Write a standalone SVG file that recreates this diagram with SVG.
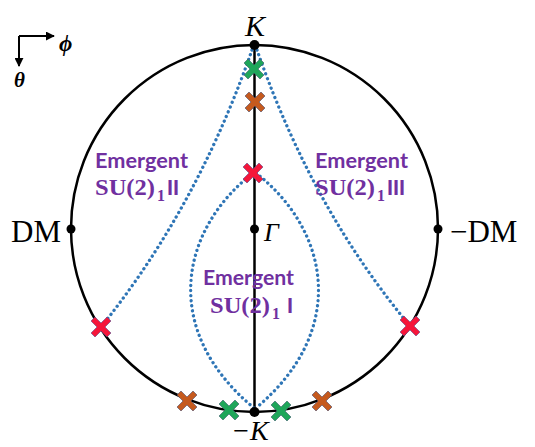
<svg xmlns="http://www.w3.org/2000/svg" width="535" height="447" viewBox="0 0 535 447">
<style>
.ln{fill:none;stroke:#000;stroke-width:2.5}
.ax{fill:none;stroke:#000;stroke-width:2}
.dot{fill:none;stroke:#2E75B6;stroke-width:3.3;stroke-dasharray:0.1 5;stroke-linecap:round}
.lbl{font-family:"Liberation Serif","DejaVu Serif",serif;fill:#000}
.em{font-family:Lato,"Open Sans",sans-serif;font-weight:bold;font-size:20px;fill:#7030A0}
.su{font-family:"Liberation Serif","DejaVu Serif",serif;font-weight:bold;font-size:24px;fill:#7030A0}
.sub{font-family:"Liberation Serif","DejaVu Serif",serif;font-weight:bold;font-size:16px;fill:#7030A0}
.rn{font-family:Lato,"Open Sans",sans-serif;font-weight:900;font-size:20px;fill:#7030A0}
.xr{fill:#F5163A;stroke:#5a4a8a;stroke-width:0.6}
.xg{fill:#1FA65A;stroke:#3a5a6a;stroke-width:0.6}
.xo{fill:#C55A1E;stroke:#4a4a6a;stroke-width:0.6}
</style>
<defs>
<path id="x" d="M-10,-6 L-6,-10 L0,-4 L6,-10 L10,-6 L4,0 L10,6 L6,10 L0,4 L-6,10 L-10,6 L-4,0 Z"/>
<marker id="ah" viewBox="0 0 10 10" refX="9" refY="5" markerWidth="4.5" markerHeight="4.5" orient="auto"><path d="M0,0 L10,5 L0,10 Z" fill="#000"/></marker>
</defs>
<g id="axes">
<path d="M19,36 H54" class="ax" marker-end="url(#ah)"/>
<path d="M19,36 V66" class="ax" marker-end="url(#ah)"/>
<text x="59" y="51" class="lbl" font-size="23" font-weight="bold" font-style="italic">ϕ</text>
<text x="14" y="87" class="lbl" font-size="21" font-weight="bold" font-style="italic">θ</text>
</g>
<g id="connectors">
<circle cx="254.5" cy="228.5" r="183.5" class="ln"/>
<path d="M254.5,45 V412" class="ln"/>
<path d="M252,50 C224,130 179,230 101,327" class="dot"/>
<path d="M257,50 C285,130 330,230 410,326" class="dot"/>
<path d="M253,173 C180,230 160,330 254,408" class="dot"/>
<path d="M256,173 C329,230 349,330 256,408" class="dot"/>
</g>
<g id="K">
<circle cx="254.5" cy="45" r="5"/>
<text x="255" y="36" class="lbl" font-size="30" font-style="italic" text-anchor="middle">K</text>
</g>
<g id="minusK">
<circle cx="254.5" cy="412" r="5"/>
<text x="250" y="440" class="lbl" font-size="28" font-style="italic" text-anchor="middle">−K</text>
</g>
<g id="Gamma">
<circle cx="254.5" cy="229" r="4.5"/>
<text x="264" y="241" class="lbl" font-size="26" font-style="italic">Γ</text>
</g>
<g id="DM">
<circle cx="71" cy="229" r="4.5"/>
<text x="11" y="242" class="lbl" font-size="31">DM</text>
</g>
<g id="minusDM">
<circle cx="438" cy="229" r="4.5"/>
<text x="450" y="242" class="lbl" font-size="31">−DM</text>
</g>
<g id="crosses">
<use href="#x" x="254" y="69" class="xg"/>
<use href="#x" x="255" y="102" class="xo"/>
<use href="#x" x="253" y="173" class="xr"/>
<use href="#x" x="101" y="327" class="xr"/>
<use href="#x" x="410" y="326" class="xr"/>
<use href="#x" x="187" y="401" class="xo"/>
<use href="#x" x="229" y="410" class="xg"/>
<use href="#x" x="281" y="411" class="xg"/>
<use href="#x" x="322" y="401" class="xo"/>
</g>
<g id="regionII">
<text x="95" y="168" class="em" textLength="93" lengthAdjust="spacingAndGlyphs">Emergent</text>
<text x="95" y="195" class="su" textLength="60" lengthAdjust="spacingAndGlyphs">SU(2)</text><text x="157" y="201" class="sub">1</text><text x="167" y="195" class="rn">II</text>
</g>
<g id="regionIII">
<text x="315" y="168" class="em" textLength="93" lengthAdjust="spacingAndGlyphs">Emergent</text>
<text x="315" y="195" class="su" textLength="60" lengthAdjust="spacingAndGlyphs">SU(2)</text><text x="377" y="201" class="sub">1</text><text x="387" y="195" class="rn">III</text>
</g>
<g id="regionI">
<text x="203" y="285" class="em" textLength="91" lengthAdjust="spacingAndGlyphs">Emergent</text>
<text x="210" y="313" class="su" textLength="60" lengthAdjust="spacingAndGlyphs">SU(2)</text><text x="272" y="319" class="sub">1</text><text x="287" y="313" class="rn">I</text>
</g>
</svg>
